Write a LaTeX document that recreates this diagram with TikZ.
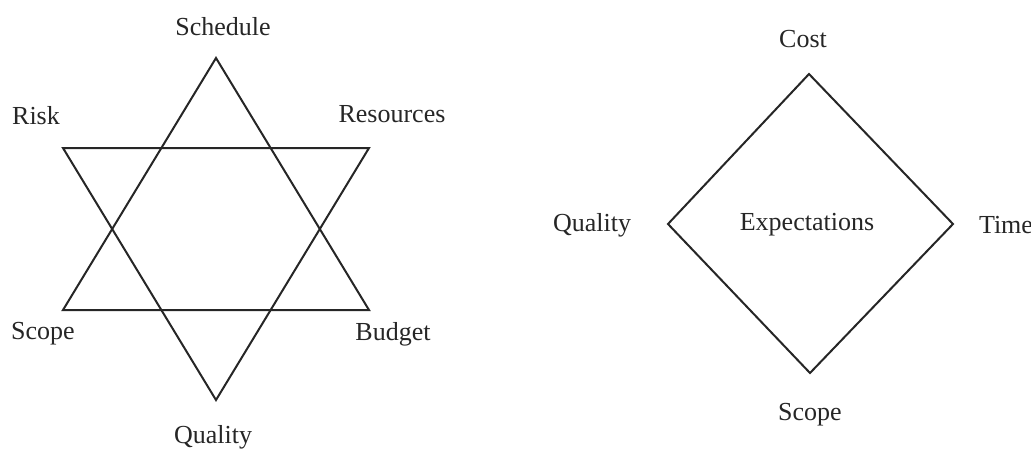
\documentclass[tikz,border=0pt]{standalone}
\usepackage{fontspec}
\setmainfont{Liberation Serif}
\begin{document}
\begin{tikzpicture}[x=1pt,y=-1pt,
  edge/.style={draw=black!85,line width=2pt,line join=miter},
  lbl/.style={font=\fontsize{26}{30}\selectfont,text=black!85,inner sep=0pt}]
\useasboundingbox (0,0) rectangle (1031,451);
% star vertices
\coordinate (st) at (216,58);
\coordinate (sl) at (63,310);
\coordinate (sr) at (369,310);
\coordinate (dl) at (63,148);
\coordinate (dr) at (369,148);
\coordinate (db) at (216,400);
\draw[edge] (st) -- (sl) -- (sr) -- cycle;
\draw[edge] (dl) -- (dr) -- (db) -- cycle;
\node[lbl] (schedule) at (223,27) {Schedule};
\node[lbl] (risk) at (36,116) {Risk};
\node[lbl] (resources) at (392,114) {Resources};
\node[lbl] (scope1) at (43,334) {Scope};
\node[lbl] (budget) at (393,334) {Budget};
\node[lbl] (quality1) at (213,437) {Quality};
% diamond
\coordinate (dt) at (809,74);
\coordinate (dlft) at (668,224);
\coordinate (drt) at (953,224);
\coordinate (dbt) at (810,373);
\draw[edge] (dt) -- (drt) -- (dbt) -- (dlft) -- cycle;
\node[lbl] (cost) at (803,39) {Cost};
\node[lbl] (quality2) at (592,225) {Quality};
\node[lbl] (expect) at (807,225) {Expectations};
\node[lbl] (time) at (1006,225) {Time};
\node[lbl] (scope2) at (810,415) {Scope};
\end{tikzpicture}
\end{document}
